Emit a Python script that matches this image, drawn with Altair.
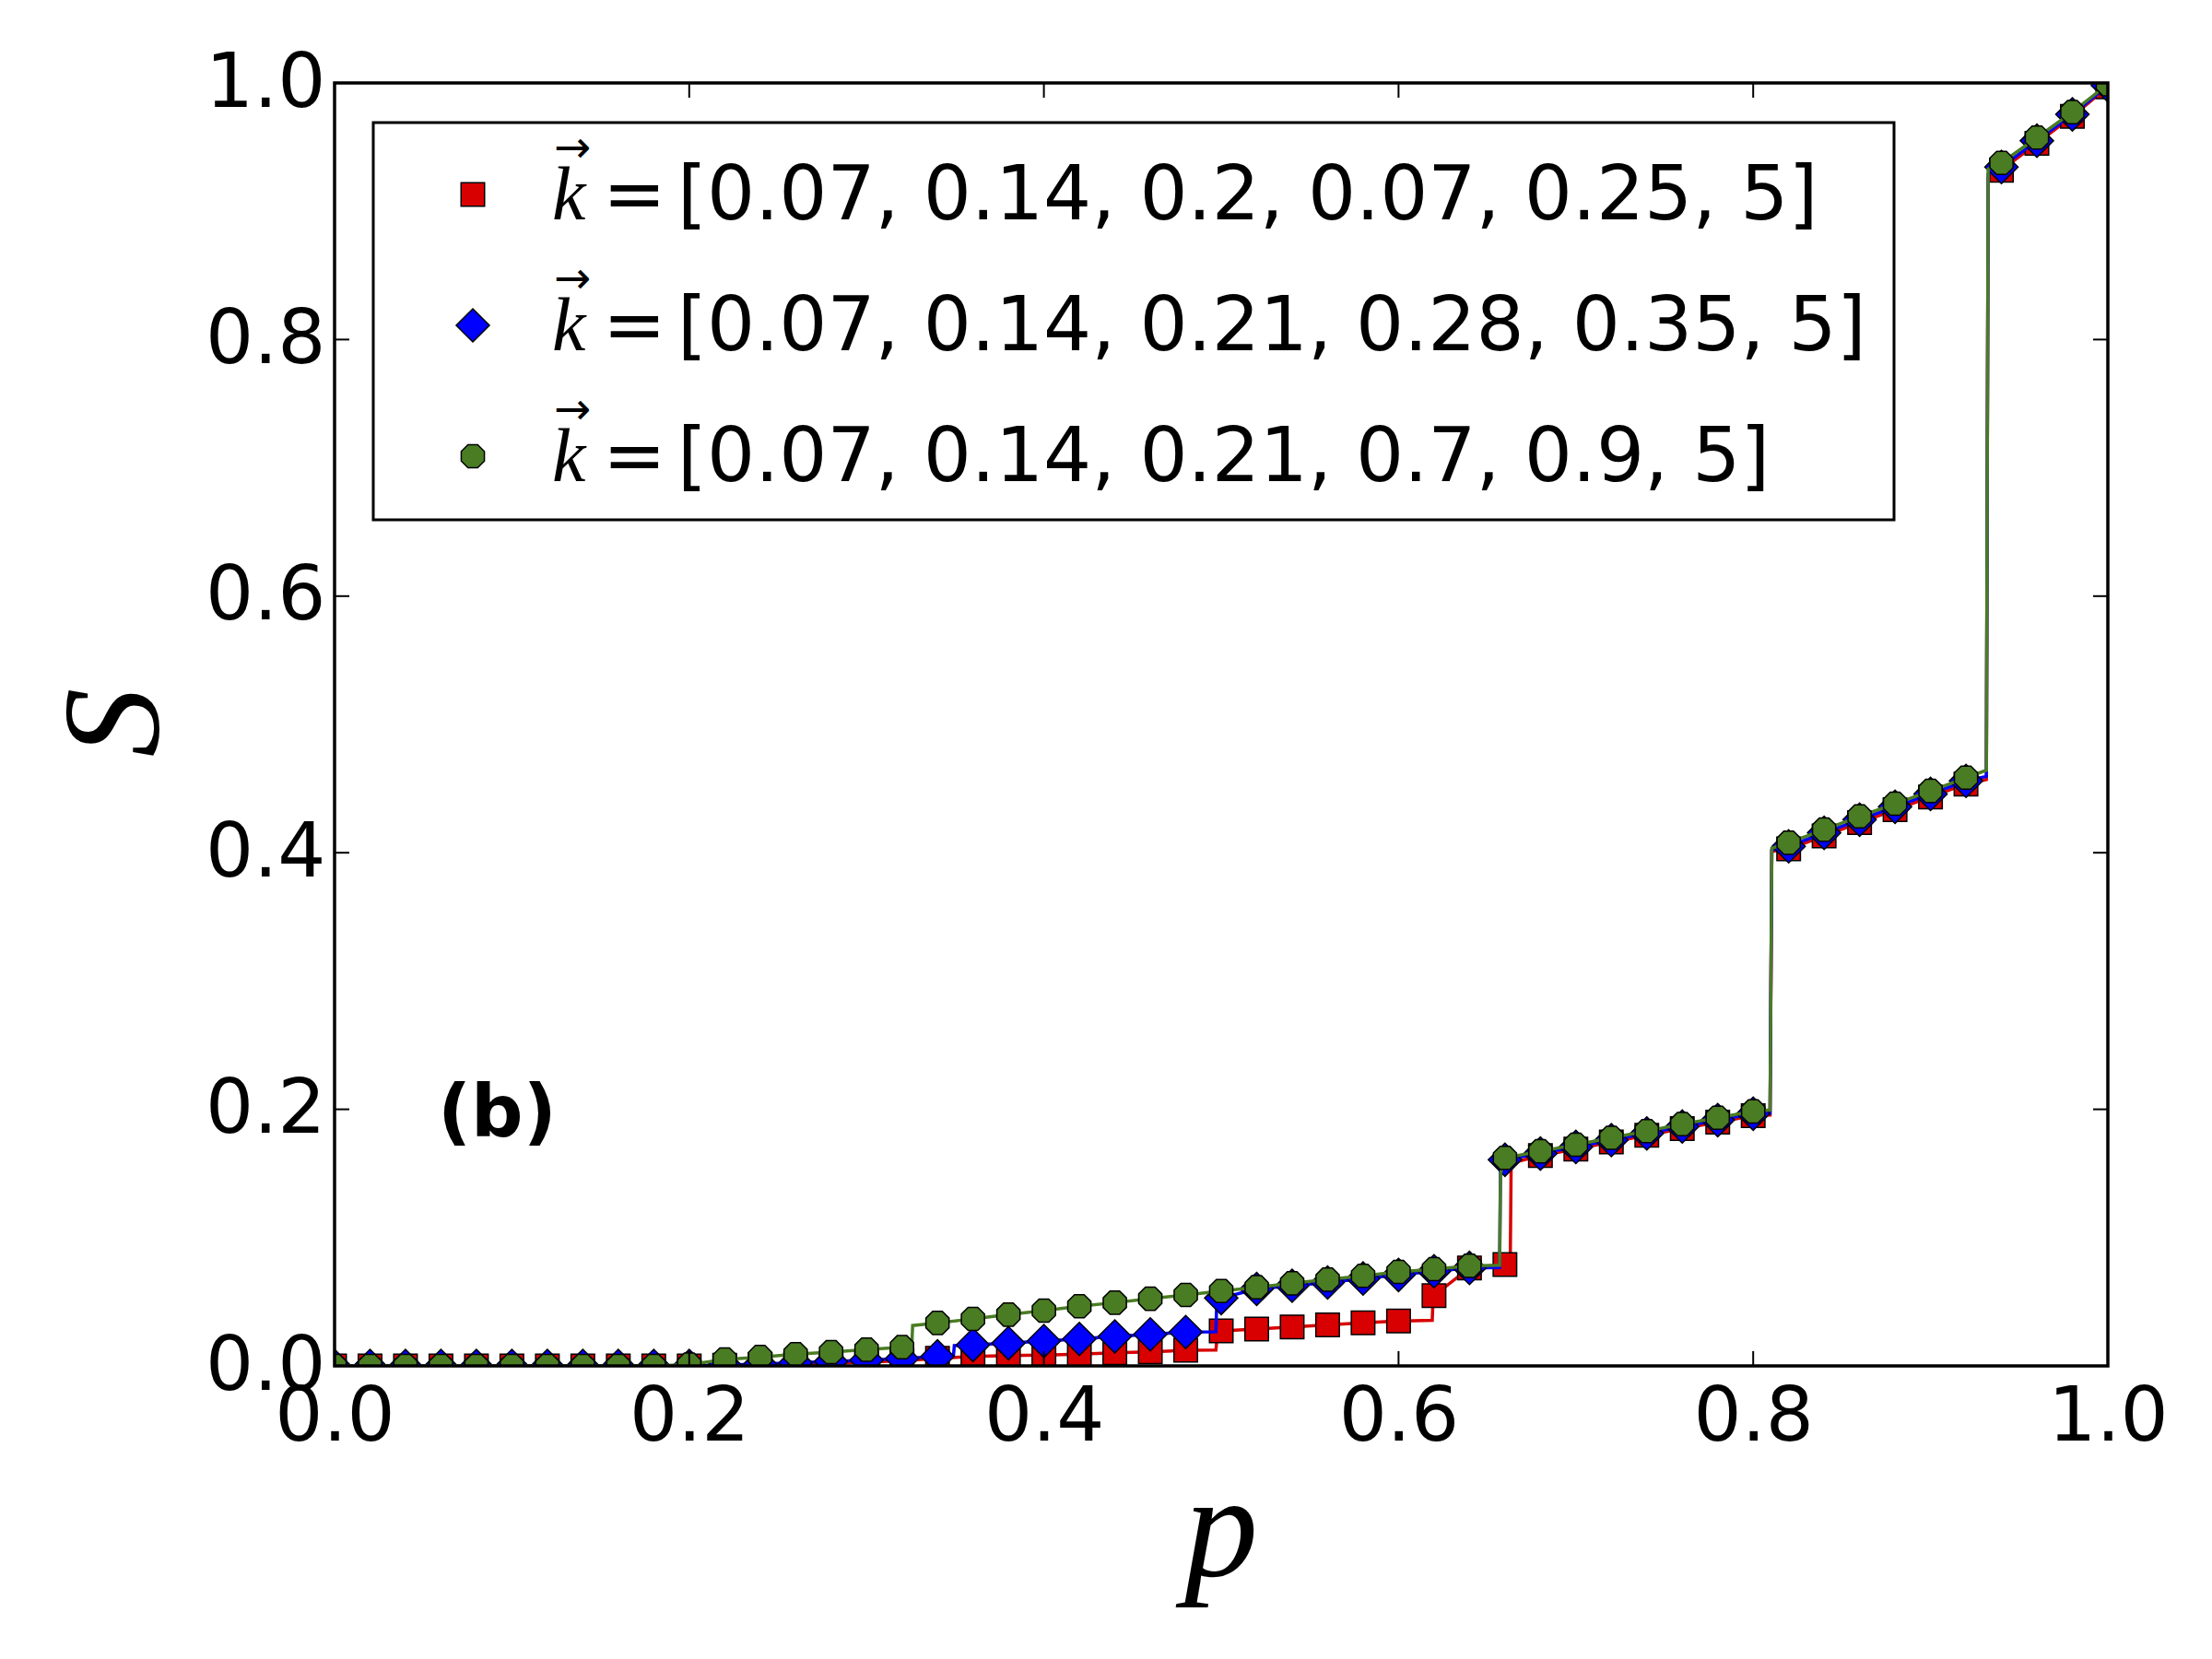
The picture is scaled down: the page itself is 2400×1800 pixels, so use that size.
import altair as alt
import pandas as pd

# ---------------- data ----------------
P = [0.0, 0.02, 0.04, 0.06, 0.08, 0.1, 0.12, 0.14, 0.16, 0.18, 0.2,
     0.22, 0.24, 0.26, 0.28, 0.3, 0.32, 0.34, 0.36, 0.38, 0.4,
     0.42, 0.44, 0.46, 0.48, 0.5, 0.52, 0.54, 0.56, 0.58, 0.6,
     0.62, 0.64, 0.66, 0.68, 0.7, 0.72, 0.74, 0.76, 0.78, 0.8,
     0.82, 0.84, 0.86, 0.88, 0.9, 0.92, 0.94, 0.96, 0.98, 1.0]

RED_S = [0, 0, 0, 0, 0, 0, 0, 0, 0, 0, 0,
         0.0005, 0.001, 0.0015, 0.002, 0.003, 0.004, 0.006, 0.0074, 0.008, 0.0085,
         0.0092, 0.0103, 0.011, 0.0122, 0.0273, 0.0288, 0.0304, 0.0319, 0.0336, 0.035,
         0.0548, 0.0764, 0.079, 0.164, 0.169, 0.1745, 0.1797, 0.185, 0.19, 0.195,
         0.403, 0.413, 0.4235, 0.4335, 0.4435, 0.4535, 0.932, 0.953, 0.974, 0.997]

BLUE_S = [0, 0, 0, 0, 0, 0, 0, 0, 0, 0, 0,
          0.0008, 0.0015, 0.0025, 0.0035, 0.0045, 0.0058, 0.0074, 0.0163, 0.0177, 0.0194,
          0.021, 0.023, 0.0246, 0.0264, 0.0529, 0.06, 0.0625, 0.065, 0.0681, 0.0709,
          0.0738, 0.0764, 0.1607, 0.1655, 0.1707, 0.176, 0.1812, 0.1866, 0.1916, 0.1966,
          0.405, 0.4155, 0.4258, 0.4358, 0.4458, 0.456, 0.9345, 0.955, 0.9755, 0.998]

GREEN_S = [0, 0, 0, 0, 0, 0, 0, 0, 0, 0, 0.001,
           0.005, 0.0069, 0.0091, 0.0108, 0.0127, 0.0146, 0.0335, 0.0366, 0.04, 0.0431,
           0.0465, 0.0493, 0.0524, 0.0553, 0.0584, 0.0613, 0.0644, 0.0673, 0.0702, 0.0733,
           0.0754, 0.078, 0.1622, 0.1673, 0.1724, 0.1778, 0.183, 0.1885, 0.1934, 0.1984,
           0.4078, 0.418, 0.4283, 0.4382, 0.4482, 0.4585, 0.9377, 0.9574, 0.9773, 0.999]

# extra break points of the (finer) curves at their jumps
RED_JUMP_P = [0.497, 0.498, 0.619, 0.6195, 0.663, 0.6635, 0.8095, 0.8105, 0.9315, 0.9325]
RED_JUMP_S = [0.0124, 0.0268, 0.0356, 0.053, 0.0792, 0.158, 0.1955, 0.401, 0.457, 0.926]
BLUE_JUMP_P = [0.349, 0.3495, 0.497, 0.4975, 0.657, 0.6575, 0.8095, 0.8105, 0.9315, 0.9325]
BLUE_JUMP_S = [0.0078, 0.0158, 0.0266, 0.05, 0.0766, 0.156, 0.197, 0.402, 0.4595, 0.929]
GREEN_JUMP_P = [0.3255, 0.326, 0.657, 0.6575, 0.8095, 0.8105, 0.9315, 0.9325]
GREEN_JUMP_S = [0.015, 0.0315, 0.0785, 0.15, 0.1995, 0.4035, 0.4643, 0.933]

TICKS = [0.0, 0.2, 0.4, 0.6, 0.8, 1.0]
LEGEND_LABELS = ["[0.07, 0.14, 0.2, 0.07, 0.25, 5]",
                 "[0.07, 0.14, 0.21, 0.28, 0.35, 5]",
                 "[0.07, 0.14, 0.21, 0.7, 0.9, 5]"]
PANEL_LABEL = "(b)"
X_TITLE = "p"
Y_TITLE = "S"

# ---------------- styling ----------------
W, H = 1924, 1392
RED, BLUE, GREEN = "#d80000", "#0000ff", "#4a7c23"
OCTAGON = ("M0.383,-0.924L0.924,-0.383L0.924,0.383L0.383,0.924"
           "L-0.383,0.924L-0.924,0.383L-0.924,-0.383L-0.383,-0.924Z")
SERIES = [
    ("red", RED_S, RED_JUMP_P, RED_JUMP_S, RED, "square", 650),
    ("blue", BLUE_S, BLUE_JUMP_P, BLUE_JUMP_S, BLUE, "diamond", 1300),
    ("green", GREEN_S, GREEN_JUMP_P, GREEN_JUMP_S, GREEN, OCTAGON, 740),
]

xs = alt.Scale(domain=[0, 1], nice=False, zero=False)
ys = alt.Scale(domain=[0, 1], nice=False, zero=False)
x_axis = alt.Axis(values=TICKS, format=".1f", title=None, grid=False, domain=False,
                  ticks=True, tickSize=0, tickWidth=0, labelPadding=15,
                  labelFlush=False, labelOverlap=False, labelBound=False,
                  labelFont="DejaVu Sans", labelFontSize=82, labelColor="black")
y_axis = alt.Axis(values=TICKS, format=".1f", title=None, grid=False, domain=False,
                  ticks=True, tickSize=0, tickWidth=0, labelPadding=10,
                  labelFlush=False, labelOverlap=False, labelBound=False,
                  labelFont="DejaVu Sans", labelFontSize=82, labelColor="black")

layers = []
for name, svals, jp, js, col, shape, size in SERIES:
    pts = pd.DataFrame({"p": P, "S": svals})
    line_df = pd.concat([pts, pd.DataFrame({"p": jp, "S": js})]).sort_values("p")
    layers.append(
        alt.Chart(line_df).mark_line(color=col, strokeWidth=3.5, clip=True).encode(
            x=alt.X("p:Q", scale=xs, axis=x_axis),
            y=alt.Y("S:Q", scale=ys, axis=y_axis),
            order="p:Q",
        )
    )
    layers.append(
        alt.Chart(pts).mark_point(shape=shape, size=size, filled=True, fill=col,
                                  stroke="black", strokeWidth=1.5, opacity=1,
                                  clip=True).encode(
            x=alt.X("p:Q", scale=xs, axis=x_axis),
            y=alt.Y("S:Q", scale=ys, axis=y_axis),
        )
    )

ticks_df = pd.DataFrame({"p": TICKS, "S": TICKS})
TL = 16
layers += [
    alt.Chart(ticks_df).mark_rule(color="black", strokeWidth=2).encode(
        x=alt.X("p:Q", scale=xs, axis=x_axis), y=alt.value(H), y2=alt.value(H - TL)),
    alt.Chart(ticks_df).mark_rule(color="black", strokeWidth=2).encode(
        x=alt.X("p:Q", scale=xs, axis=x_axis), y=alt.value(0), y2=alt.value(TL)),
    alt.Chart(ticks_df).mark_rule(color="black", strokeWidth=2).encode(
        y=alt.Y("S:Q", scale=ys, axis=y_axis), x=alt.value(0), x2=alt.value(TL)),
    alt.Chart(ticks_df).mark_rule(color="black", strokeWidth=2).encode(
        y=alt.Y("S:Q", scale=ys, axis=y_axis), x=alt.value(W), x2=alt.value(W - TL)),
]

# ---------------- legend, labels, frame ----------------
leg = pd.DataFrame({"label": LEGEND_LABELS, "row": [0, 1, 2]})
one = leg[leg.row == 0]
layers.append(
    alt.Chart(one).mark_rect(fill="white", stroke="black", strokeWidth=3).encode(
        x=alt.value(42), x2=alt.value(1692), y=alt.value(43), y2=alt.value(474))
)
ROW_DY = 142
for i, (name, svals, jp, js, col, shape, size) in enumerate(SERIES):
    row = leg[leg.row == i]
    layers.append(
        alt.Chart(row).mark_point(shape=shape, size=size, filled=True, fill=col,
                                  stroke="black", strokeWidth=1.5, opacity=1).encode(
            x=alt.value(150), y=alt.value(121 + ROW_DY * i))
    )
    layers.append(
        alt.Chart(row).mark_text(text="k", font="Liberation Serif", fontStyle="italic",
                                 fontSize=82, align="left", baseline="alphabetic",
                                 color="black").encode(
            x=alt.value(236), y=alt.value(148 + ROW_DY * i))
    )
    layers.append(
        alt.Chart(row).mark_text(text="\u2192", font="DejaVu Sans", fontSize=48,
                                 align="center", baseline="alphabetic",
                                 color="black").encode(
            x=alt.value(258), y=alt.value(86 + ROW_DY * i))
    )
    layers.append(
        alt.Chart(row).mark_text(text="=", font="DejaVu Sans", fontSize=82,
                                 align="left", baseline="alphabetic",
                                 color="black").encode(
            x=alt.value(291), y=alt.value(148 + ROW_DY * i))
    )
    layers.append(
        alt.Chart(row).mark_text(font="DejaVu Sans", fontSize=82, align="left",
                                 baseline="alphabetic", color="black").encode(
            x=alt.value(372), y=alt.value(148 + ROW_DY * i), text="label:N")
    )

layers += [
    alt.Chart(one).mark_text(text=PANEL_LABEL, font="DejaVu Sans", fontWeight="bold",
                             fontSize=79, align="left", baseline="alphabetic",
                             color="black").encode(x=alt.value(112), y=alt.value(1143)),
    alt.Chart(one).mark_text(text=X_TITLE, font="Liberation Serif", fontStyle="italic",
                             fontSize=160, align="center", baseline="alphabetic",
                             color="black").encode(x=alt.value(W / 2), y=alt.value(1620)),
    alt.Chart(one).mark_text(text=Y_TITLE, font="Liberation Serif", fontStyle="italic",
                             fontSize=150, align="center", baseline="middle", angle=270,
                             color="black").encode(x=alt.value(-236), y=alt.value(694)),
    alt.Chart(one).mark_rect(fillOpacity=0, stroke="black", strokeWidth=3.5).encode(
        x=alt.value(0), x2=alt.value(W), y=alt.value(0), y2=alt.value(H)),
]

chart = alt.layer(*layers).properties(
    width=W, height=H, autosize="none",
    padding={"left": 355, "top": 82, "right": 105, "bottom": 310},
).configure_view(stroke="transparent").configure(background="white")

chart.save("out.html", embed_options={"renderer": "svg", "actions": False})
